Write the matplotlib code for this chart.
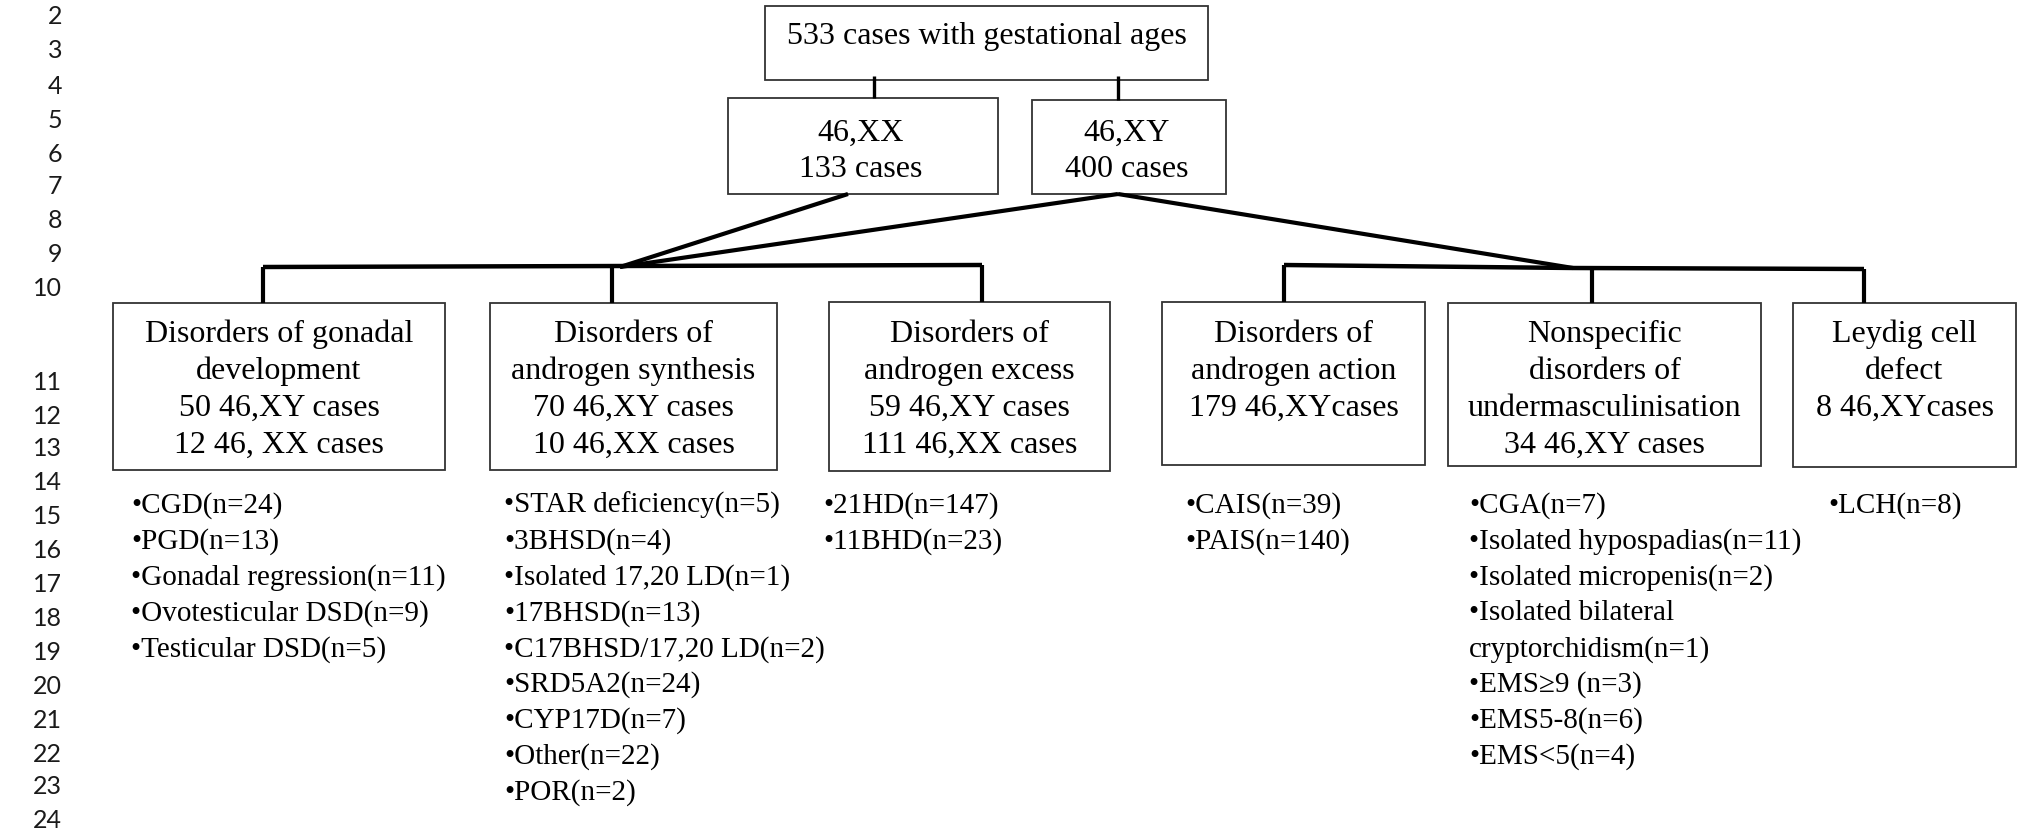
import matplotlib.pyplot as plt
from matplotlib import font_manager
from matplotlib.patches import Rectangle

# ---- data ----
top_label = "533 cases with gestational ages"
karyotype_names = ["46,XX", "46,XY"]
karyotype_counts = ["133 cases", "400 cases"]

group_titles = [
    ["Disorders of gonadal", "development"],
    ["Disorders of", "androgen synthesis"],
    ["Disorders of", "androgen excess"],
    ["Disorders of", "androgen action"],
    ["Nonspecific", "disorders of", "undermasculinisation"],
    ["Leydig cell", "defect"],
]
group_counts = [
    ["50 46,XY cases", "12 46, XX cases"],
    ["70 46,XY cases", "10 46,XX cases"],
    ["59 46,XY cases", "111 46,XX cases"],
    ["179 46,XYcases"],
    ["34 46,XY cases"],
    ["8 46,XYcases"],
]
subtypes = [
    ["CGD(n=24)", "PGD(n=13)", "Gonadal regression(n=11)",
     "Ovotesticular DSD(n=9)", "Testicular DSD(n=5)"],
    ["STAR deficiency(n=5)", "3BHSD(n=4)", "Isolated 17,20 LD(n=1)",
     "17BHSD(n=13)", "C17BHSD/17,20 LD(n=2)", "SRD5A2(n=24)",
     "CYP17D(n=7)", "Other(n=22)", "POR(n=2)"],
    ["21HD(n=147)", "11BHD(n=23)"],
    ["CAIS(n=39)", "PAIS(n=140)"],
    ["CGA(n=7)", "Isolated hypospadias(n=11)", "Isolated micropenis(n=2)",
     "Isolated bilateral", "cryptorchidism(n=1)", "EMS\u22659 (n=3)",
     "EMS5-8(n=6)", "EMS<5(n=4)"],
    ["LCH(n=8)"],
]
no_bullet = {"cryptorchidism(n=1)"}

line_numbers = [2, 3, 4, 5, 6, 7, 8, 9, 10,
                11, 12, 13, 14, 15, 16, 17, 18, 19, 20, 21, 22, 23, 24]

# ---- layout (pixels, y downwards) ----
top_box = (765, 6, 1208, 80)
kary_boxes = [(728, 98, 998, 194), (1032, 100, 1226, 194)]
group_boxes = [(113, 303, 445, 470), (490, 303, 777, 470),
               (829, 302, 1110, 471), (1162, 302, 1425, 465),
               (1448, 303, 1761, 466), (1793, 303, 2016, 467)]
drops = [263, 612, 982, 1284, 1592, 1864]
list_x = [131, 504, 823, 1185, 1469, 1828]
num_y = [16, 51, 86, 120, 154, 187, 221, 255, 288,
         383, 416, 449, 483, 516, 550, 584, 618, 652, 686, 720, 754, 787, 821]

# serif face: Times-metric Liberation Serif, fall back to others if missing
serif_name = 'DejaVu Serif'
for cand in ['Liberation Serif', 'Times New Roman', 'Nimbus Roman', 'FreeSerif']:
    try:
        font_manager.findfont(font_manager.FontProperties(family=cand),
                              fallback_to_default=False)
        serif_name = cand
        break
    except ValueError:
        pass
serif = [serif_name, 'DejaVu Serif']
edge = '#333333'

fig = plt.figure(figsize=(20.18, 8.35), dpi=100)
ax = fig.add_axes([0, 0, 1, 1])
ax.set_xlim(0, 2018)
ax.set_ylim(835, 0)
ax.axis('off')


def box(b):
    x0, y0, x1, y1 = b
    ax.add_patch(Rectangle((x0, y0), x1 - x0, y1 - y0, fill=False,
                           ec=edge, lw=1.3))


def line(xs, ys, lw=3.0):
    ax.plot(xs, ys, color='black', lw=lw, solid_capstyle='butt',
            solid_joinstyle='miter')


# line numbers down the margin
for n, y in zip(line_numbers, num_y):
    ax.text(62, y, str(n), ha='right', va='center', fontsize=18,
            family=['Lato', 'DejaVu Sans'], color='#1a1a1a')

# top box
box(top_box)
ax.text((top_box[0] + top_box[2]) / 2, 44, top_label, ha='center',
        va='baseline', fontsize=23, family=serif)

# karyotype boxes
for b, name, cnt in zip(kary_boxes, karyotype_names, karyotype_counts):
    box(b)
    cx = (b[0] + b[2]) / 2 - 2
    ax.text(cx, 141, name, ha='center', va='baseline', fontsize=23, family=serif)
    ax.text(cx, 177, cnt, ha='center', va='baseline', fontsize=23, family=serif)

# connectors top -> karyotypes
line([874, 874], [76, 98], lw=2.4)
line([1118, 1118], [76, 100], lw=2.4)

# diagonals to junctions
line([848, 620], [194, 267], lw=3.0)
line([1118, 620], [194, 267], lw=3.0)
line([1118, 1573], [194, 268], lw=3.0)

# horizontal bars
line([263, 620, 982], [267, 266, 265], lw=3.2)
line([1284, 1573, 1864], [265, 268, 269], lw=3.2)
bar_y = [267, 266, 265, 265, 268, 269]
for x, yb, b in zip(drops, bar_y, group_boxes):
    line([x, x], [yb, b[1]], lw=3.0)

# group boxes and lists
for i, b in enumerate(group_boxes):
    box(b)
    cx = (b[0] + b[2]) / 2
    rows = group_titles[i] + group_counts[i]
    for j, s in enumerate(rows):
        ax.text(cx, 342 + 37 * j, s, ha='center', va='baseline',
                fontsize=23, family=serif)
    for j, s in enumerate(subtypes[i]):
        lab = s if s in no_bullet else "\u2022" + s
        ax.text(list_x[i], 513 + 35.8 * j, lab, ha='left', va='baseline',
                fontsize=21, family=serif)

fig.savefig('out.png', dpi=100)
